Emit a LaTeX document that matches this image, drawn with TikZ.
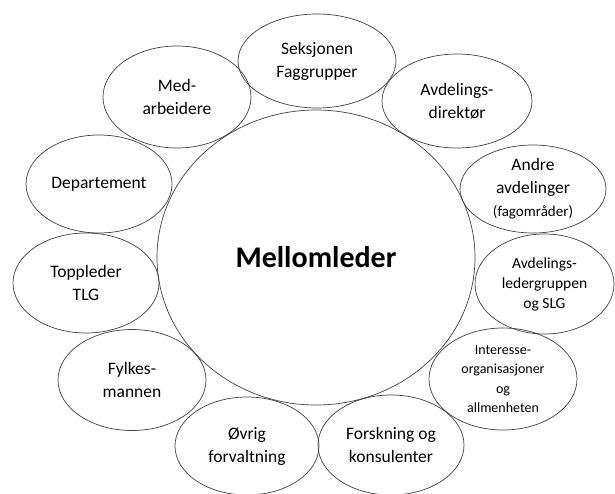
\documentclass[tikz,border=0pt]{standalone}
\usepackage{fontspec}
\setmainfont{Carlito}
\usetikzlibrary{shapes.geometric}
\begin{document}
\begin{tikzpicture}[x=1pt,y=-1pt,
  bub/.style={ellipse,draw=black!75,line width=0.7pt,inner sep=0pt,align=center,
    font=\fontsize{17.5}{23}\selectfont},
  big/.style={bub,font=\fontsize{30}{36}\selectfont\bfseries},
  smalltxt/.style={font=\fontsize{14}{19.5}\selectfont},
  midtxt/.style={font=\fontsize{15.5}{20}\selectfont}
]
\useasboundingbox (0,0) rectangle (615,494);
\node[big,minimum width=318pt,minimum height=295pt] (mid) at (316,257.5) {Mellomleder};
\node[bub,minimum width=158pt,minimum height=94pt] (seks) at (317,61) {Seksjonen\\Faggrupper};
\node[bub,minimum width=148pt,minimum height=102pt] (med) at (177,97) {Med-\\arbeidere};
\node[bub,minimum width=150pt,minimum height=94pt] (avd) at (457,101) {Avdelings-\\direktør};
\node[bub,minimum width=146pt,minimum height=98pt] (dep) at (99,184) {Departement};
\node[bub,minimum width=146pt,minimum height=88pt] (andre) at (533,189) {Andre\\avdelinger\\{\fontsize{15}{20}\selectfont (fagområder)}};
\node[bub,minimum width=146pt,minimum height=100pt] (topp) at (86,283) {Toppleder\\TLG};
\node[bub,midtxt,minimum width=139pt,minimum height=100pt] (asl) at (544.5,284) {Avdelings-\\ledergruppen\\og SLG};
\node[bub,minimum width=148pt,minimum height=101pt] (fyl) at (132,380) {Fylkes-\\mannen};
\node[bub,smalltxt,minimum width=148pt,minimum height=102pt] (int) at (503,379) {Interesse-\\organisasjoner\\og\\allmenheten};
\node[bub,minimum width=144pt,minimum height=98pt] (ovr) at (247,446) {Øvrig\\forvaltning};
\node[bub,minimum width=146pt,minimum height=100pt] (fors) at (391,445) {Forskning og\\konsulenter};
\end{tikzpicture}
\end{document}
